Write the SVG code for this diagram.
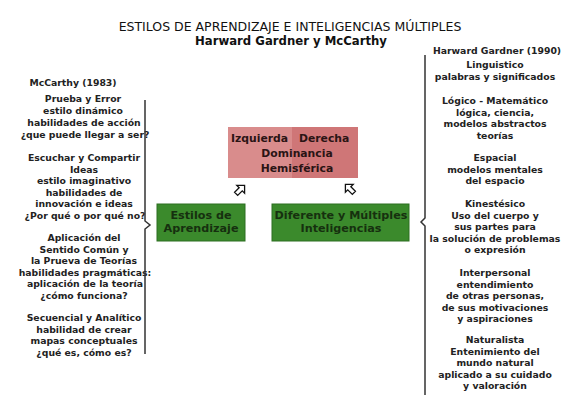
<svg xmlns="http://www.w3.org/2000/svg" width="580" height="406" viewBox="0 0 580 406">
<style>
.t{font-family:"DejaVu Sans",Verdana,sans-serif;font-weight:700;font-size:9.3px;fill:#222;text-anchor:middle}
.h1{font-family:"DejaVu Sans",Verdana,sans-serif;font-size:12.5px;fill:#111;text-anchor:middle}
.h2{font-family:"DejaVu Sans",Verdana,sans-serif;font-weight:700;font-size:11.7px;fill:#111;text-anchor:middle}
.bt{font-family:"DejaVu Sans",Verdana,sans-serif;font-weight:700;font-size:10.8px;fill:#2a1414}
.gt{font-family:"DejaVu Sans",Verdana,sans-serif;font-weight:700;font-size:11.2px;fill:#16300f;text-anchor:middle}
.br{fill:none;stroke:#333;stroke-width:1.5}
.ar{fill:#fff;stroke:#111;stroke-width:1.3;stroke-linejoin:miter}
</style>
<rect width="580" height="406" fill="#fff"/>
<g id="title">
<text class="h1" x="290" y="31">ESTILOS DE APRENDIZAJE E INTELIGENCIAS MÚLTIPLES</text>
<text class="h2" x="291" y="45">Harward Gardner y McCarthy</text>
</g>
<g id="mccarthy">
<text class="t" x="73" y="86">McCarthy (1983)</text>
<text class="t" x="83" y="102">Prueba y Error</text>
<text class="t" x="83" y="114">estilo dinámico</text>
<text class="t" x="84" y="126">habilidades de acción</text>
<text class="t" x="85" y="138">¿que puede llegar a ser?</text>
<text class="t" x="84" y="161">Escuchar y Compartir</text>
<text class="t" x="84" y="172.5">Ideas</text>
<text class="t" x="84" y="184">estilo imaginativo</text>
<text class="t" x="84" y="195.5">habilidades de</text>
<text class="t" x="84" y="207">innovación e ideas</text>
<text class="t" x="85" y="218.5">¿Por qué o por qué no?</text>
<text class="t" x="84" y="241">Aplicación del</text>
<text class="t" x="84" y="252.5">Sentido Común y</text>
<text class="t" x="84" y="264">la Prueva de Teorías</text>
<text class="t" x="85" y="275.5">habilidades pragmáticas:</text>
<text class="t" x="85" y="287">aplicación de la teoría</text>
<text class="t" x="84" y="298.5">¿cómo funciona?</text>
<text class="t" x="84" y="321">Secuencial y Analítico</text>
<text class="t" x="84" y="332.5">habilidad de crear</text>
<text class="t" x="84" y="344">mapas conceptuales</text>
<text class="t" x="84" y="355.5">¿qué es, cómo es?</text>
</g>
<g id="gardner">
<text class="t" x="497" y="54">Harward Gardner (1990)</text>
<text class="t" x="495" y="68">Linguistico</text>
<text class="t" x="495" y="79.5">palabras y significados</text>
<text class="t" x="495" y="104">Lógico - Matemático</text>
<text class="t" x="495" y="115.5">lógica, ciencia,</text>
<text class="t" x="495" y="127">modelos abstractos</text>
<text class="t" x="495" y="138.5">teorías</text>
<text class="t" x="495" y="161">Espacial</text>
<text class="t" x="495" y="172.5">modelos mentales</text>
<text class="t" x="495" y="184">del espacio</text>
<text class="t" x="495" y="207">Kinestésico</text>
<text class="t" x="495" y="218.5">Uso del cuerpo y</text>
<text class="t" x="495" y="230">sus partes para</text>
<text class="t" x="495" y="241.5">la solución de problemas</text>
<text class="t" x="495" y="253">o expresión</text>
<text class="t" x="495" y="276">Interpersonal</text>
<text class="t" x="495" y="287.5">entendimiento</text>
<text class="t" x="495" y="299">de otras personas,</text>
<text class="t" x="495" y="310.5">de sus motivaciones</text>
<text class="t" x="495" y="322">y aspiraciones</text>
<text class="t" x="495" y="343">Naturalista</text>
<text class="t" x="495" y="354.5">Entenimiento del</text>
<text class="t" x="495" y="366">mundo natural</text>
<text class="t" x="495" y="377.5">aplicado a su cuidado</text>
<text class="t" x="495" y="389">y valoración</text>
</g>
<g id="hemisferica">
<rect x="228" y="127" width="65" height="51" fill="#d98c8c"/>
<rect x="292" y="127" width="66" height="51" fill="#cf7677"/>
<text class="bt" x="231" y="142">Izquierda</text>
<text class="bt" x="299" y="142">Derecha</text>
<text class="bt" x="297" y="157" text-anchor="middle">Dominancia</text>
<text class="bt" x="297" y="172" text-anchor="middle">Hemisférica</text>
</g>
<g id="estilos">
<rect x="157" y="204" width="88" height="37" fill="#3b8a2c" stroke="#2d6f21" stroke-width="1"/>
<text class="gt" x="201" y="219">Estilos de</text>
<text class="gt" x="201" y="232">Aprendizaje</text>
</g>
<g id="inteligencias">
<rect x="272" y="204" width="137" height="37" fill="#3b8a2c" stroke="#2d6f21" stroke-width="1"/>
<text class="gt" x="341" y="219">Diferente y Múltiples</text>
<text class="gt" x="341" y="232">Inteligencias</text>
</g>
<g id="connectors">
<path class="br" d="M145,100 V221 L150,225 L145,229 V354"/>
<path class="br" d="M425,55 V218 L421,222 L425,226 V395"/>
<polygon class="ar" points="0,-6.5 5.5,-1 2.2,-1 2.2,5.5 -2.2,5.5 -2.2,-1 -5.5,-1" transform="translate(240,190) rotate(45)"/>
<polygon class="ar" points="0,-6.5 5.5,-1 2.2,-1 2.2,5.5 -2.2,5.5 -2.2,-1 -5.5,-1" transform="translate(350,189) rotate(-45)"/>
</g>
</svg>
